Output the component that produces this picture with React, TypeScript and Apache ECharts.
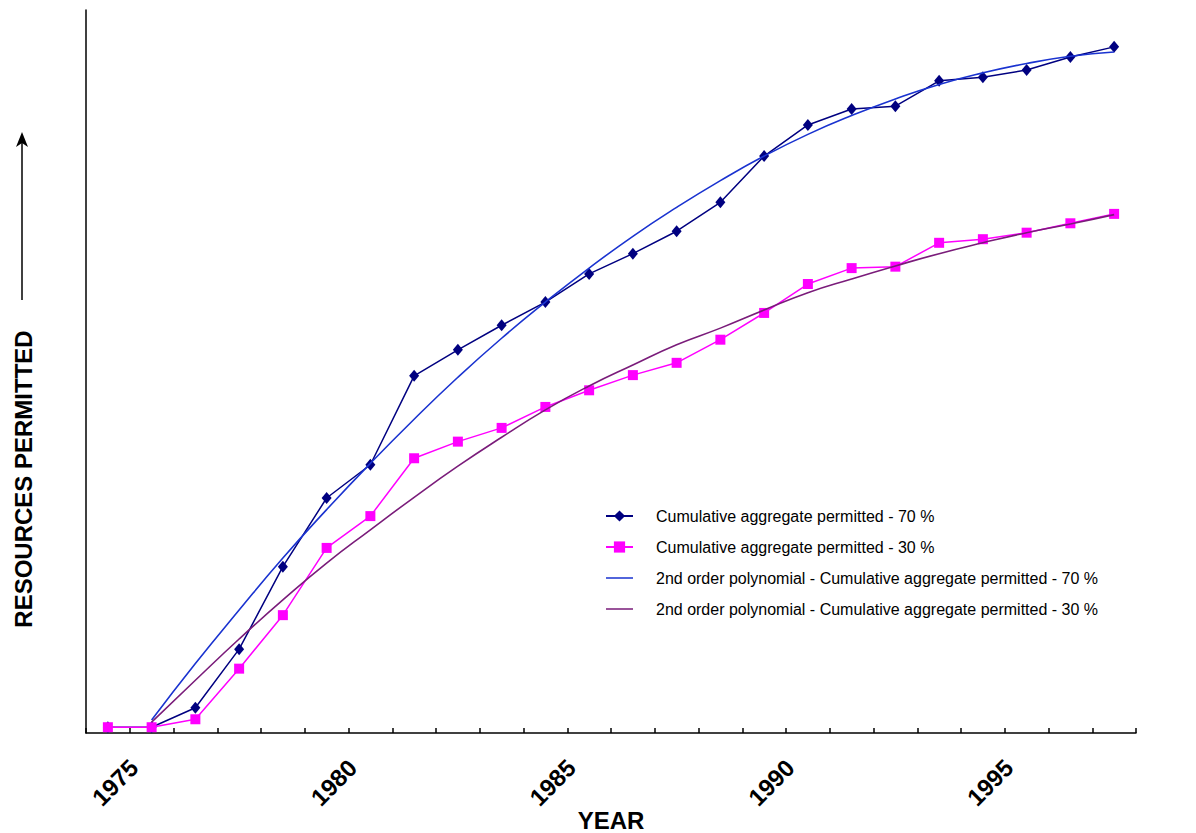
import React, { useEffect, useRef } from "react";
import * as echarts from "echarts";

const years = ["1974","1975","1976","1977","1978","1979","1980","1981","1982","1983","1984","1985","1986","1987","1988","1989","1990","1991","1992","1993","1994","1995","1996","1997"];

const cum70 = [0.8, 0.8, 3.5, 11.6, 23.0, 32.5, 37.1, 49.4, 53.0, 56.4, 59.6, 63.5, 66.3, 69.4, 73.4, 79.8, 84.1, 86.3, 86.7, 90.2, 90.7, 91.7, 93.5, 94.9];
const cum30 = [0.8, 0.8, 1.9, 8.9, 16.3, 25.6, 30.0, 38.0, 40.3, 42.2, 45.1, 47.4, 49.5, 51.2, 54.4, 58.1, 62.1, 64.3, 64.5, 67.8, 68.3, 69.2, 70.5, 71.8];
const trend70 = [null, 1.8, 9.6, 17.0, 24.2, 30.9, 37.3, 43.4, 49.2, 54.6, 59.6, 64.3, 68.7, 72.7, 76.4, 79.8, 82.8, 85.4, 87.7, 89.7, 91.3, 92.6, 93.6, 94.2];
const trend30 = [null, 1.5, 7.3, 13.0, 18.4, 23.5, 28.1, 32.6, 36.9, 40.9, 44.7, 48.0, 50.9, 53.7, 56.0, 58.5, 60.9, 62.8, 64.6, 66.3, 67.8, 69.2, 70.4, 71.7];

const seriesNames = [
  "Cumulative aggregate permitted - 70 %",
  "Cumulative aggregate permitted - 30 %",
  "2nd order polynomial - Cumulative aggregate permitted - 70 %",
  "2nd order polynomial - Cumulative aggregate permitted - 30 %",
];

const FONT = '"Liberation Sans", Arial, Helvetica, sans-serif';
// thin horizontal bar icon spanning a 27x14 box
const LINE_ICON = "path://M0,0L0.01,0L0,0.01Z M0,6.25L27,6.25L27,7.75L0,7.75Z M26.99,14L27,14L27,13.99Z";

export default function App() {
  const ref = useRef<HTMLDivElement>(null);
  useEffect(() => {
    if (!ref.current) return;
    const chart = echarts.init(ref.current, null, { renderer: "svg" });
    chart.setOption({
      animation: false,
      backgroundColor: "#ffffff",
      grid: { left: 86, right: 60, top: 10, bottom: 100, containLabel: false, outerBoundsMode: "none" },
      legend: {
        orient: "vertical",
        left: 605,
        top: 508,
        padding: 0,
        itemWidth: 27,
        itemHeight: 14,
        itemGap: 15,
        symbolKeepAspect: false,
        textStyle: { fontFamily: FONT, fontSize: 16, lineHeight: 14, color: "#000", padding: [0, 0, 0, 18] },
        data: [
          { name: seriesNames[0] },
          { name: seriesNames[1] },
          { name: seriesNames[2], icon: LINE_ICON },
          { name: seriesNames[3], icon: LINE_ICON },
        ],
      },
      xAxis: {
        type: "category",
        data: years,
        boundaryGap: true,
        name: "YEAR",
        nameLocation: "middle",
        nameGap: 75,
        nameMoveOverlap: false,
        nameTextStyle: { fontFamily: FONT, fontSize: 24, fontWeight: "bold", color: "#000" },
        axisLine: { show: true, lineStyle: { color: "#000", width: 1.5 } },
        axisTick: { show: true, inside: true, length: 5, interval: 0, lineStyle: { color: "#000", width: 1.5 } },
        axisLabel: {
          interval: (idx: number, val: string) => Number(val) % 5 === 0,
          rotate: 45,
          margin: 13,
          padding: [0, 25, 0, 0],
          fontFamily: FONT,
          fontSize: 24,
          fontWeight: "bold",
          color: "#000",
        },
        splitLine: { show: false },
      },
      yAxis: {
        type: "value",
        min: 0,
        max: 100,
        axisLine: { show: true, lineStyle: { color: "#000", width: 1.5 } },
        axisTick: { show: false },
        axisLabel: { show: false },
        splitLine: { show: false },
      },
      graphic: [
        {
          type: "text",
          x: 23,
          y: 479,
          rotation: Math.PI / 2,
          style: {
            text: "RESOURCES PERMITTED",
            font: 'bold 24px "Liberation Sans", Arial, sans-serif',
            fill: "#000",
            textAlign: "center",
            textVerticalAlign: "middle",
          },
        },
        {
          type: "line",
          shape: { x1: 22, y1: 300, x2: 22, y2: 142 },
          style: { stroke: "#000", lineWidth: 1.5 },
        },
        {
          type: "polygon",
          shape: { points: [[22, 132], [16, 147], [22, 143], [28, 147]] },
          style: { fill: "#000" },
        },
      ],
      series: [
        {
          name: seriesNames[0],
          type: "line",
          data: cum70,
          symbol: "diamond",
          symbolSize: [10, 12],
          lineStyle: { color: "#000080", width: 1.5 },
          itemStyle: { color: "#000080" },
          z: 2,
        },
        {
          name: seriesNames[1],
          type: "line",
          data: cum30,
          symbol: "rect",
          symbolSize: 10,
          lineStyle: { color: "#ff00ff", width: 1.5 },
          itemStyle: { color: "#ff00ff" },
          z: 3,
        },
        {
          name: seriesNames[2],
          type: "line",
          data: trend70,
          smooth: true,
          symbol: "none",
          lineStyle: { color: "#1a33d0", width: 1.6 },
          itemStyle: { color: "#1a33d0" },
          z: 4,
        },
        {
          name: seriesNames[3],
          type: "line",
          data: trend30,
          smooth: true,
          symbol: "none",
          lineStyle: { color: "#7a1c7a", width: 1.6 },
          itemStyle: { color: "#7a1c7a" },
          z: 4,
        },
      ],
    });
    return () => chart.dispose();
  }, []);
  return (
    <div
      ref={ref}
      style={{ position: "fixed", left: 0, top: 0, width: 1196, height: 833, background: "#fff" }}
    />
  );
}
